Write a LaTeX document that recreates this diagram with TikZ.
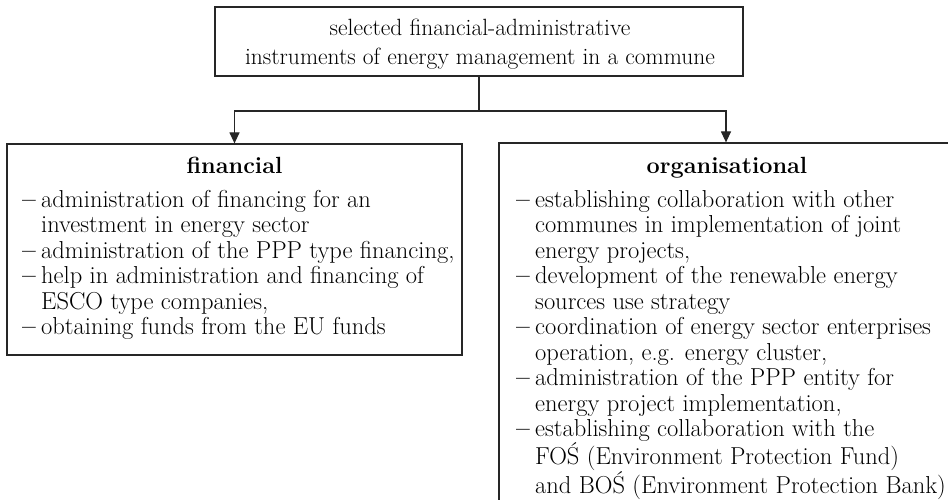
\documentclass[tikz,border=0pt]{standalone}
\usetikzlibrary{arrows.meta}
\newlength{\lstdw}
\setlength{\lstdw}{19pt}
\newcommand{\lstdash}{\makebox[\lstdw][l]{\textbf{\textendash}}}
\newcommand{\lstcont}{\hspace*{\lstdw}}
\begin{document}
\begin{tikzpicture}[x=1pt,y=-1pt,
  box/.style={draw=black!85,line width=1.2pt,rectangle,inner sep=0pt},
  txt/.style={font=\fontsize{24.5}{25.5}\selectfont,inner sep=0pt},
  head/.style={font=\fontsize{23.4}{25.5}\selectfont\bfseries,inner sep=0pt,anchor=base},
  conn/.style={draw=black!85,line width=1.2pt},
  arr/.style={conn,-{Triangle[width=10pt,length=11pt]}}]
\useasboundingbox (0,0) rectangle (948,500);
\node[box,minimum width=528pt,minimum height=69pt] (top) at (479,41.5) {};
\node[box,minimum width=455pt,minimum height=211pt] (fin) at (234.5,249.5) {};
\begin{scope}
\clip (0,0) rectangle (948,500);
\node[box,minimum width=454pt,minimum height=367pt] (org) at (726,326.5) {};
\end{scope}
\node[txt,font=\fontsize{23.5}{29}\selectfont,align=center] (toptxt) at (480,44.5)
  {selected financial-administrative\\instruments of energy management in a commune};
\node[head] (finhead) at (234.5,174) {financial};
\node[head] (orghead) at (727,174) {organisational};
\node[txt,align=left,anchor=north west] (finlist) at (22,190)
  {\lstdash administration of financing for an\\
   \lstcont investment in energy sector\\
   \lstdash administration of the PPP type financing,\\
   \lstdash help in administration and financing of\\
   \lstcont ESCO type companies,\\
   \lstdash obtaining funds from the EU funds};
\node[txt,align=left,anchor=north west] (orglist) at (516,190)
  {\lstdash establishing collaboration with other\\
   \lstcont communes in implementation of joint\\
   \lstcont energy projects,\\
   \lstdash development of the renewable energy\\
   \lstcont sources use strategy\\
   \lstdash coordination of energy sector enterprises\\
   \lstcont operation, e.g. energy cluster,\\
   \lstdash administration of the PPP entity for\\
   \lstcont energy project implementation,\\
   \lstdash establishing collaboration with the\\
   \lstcont FOŚ (Environment Protection Fund)\\
   \lstcont and BOŚ (Environment Protection Bank)};
\coordinate (jy) at (0,111);
\draw[conn] (top.south) -- (top.south |- jy) coordinate (j);
\draw[arr] (j) -| (fin.north);
\draw[arr] (j) -| (org.north);
\end{tikzpicture}
\end{document}
